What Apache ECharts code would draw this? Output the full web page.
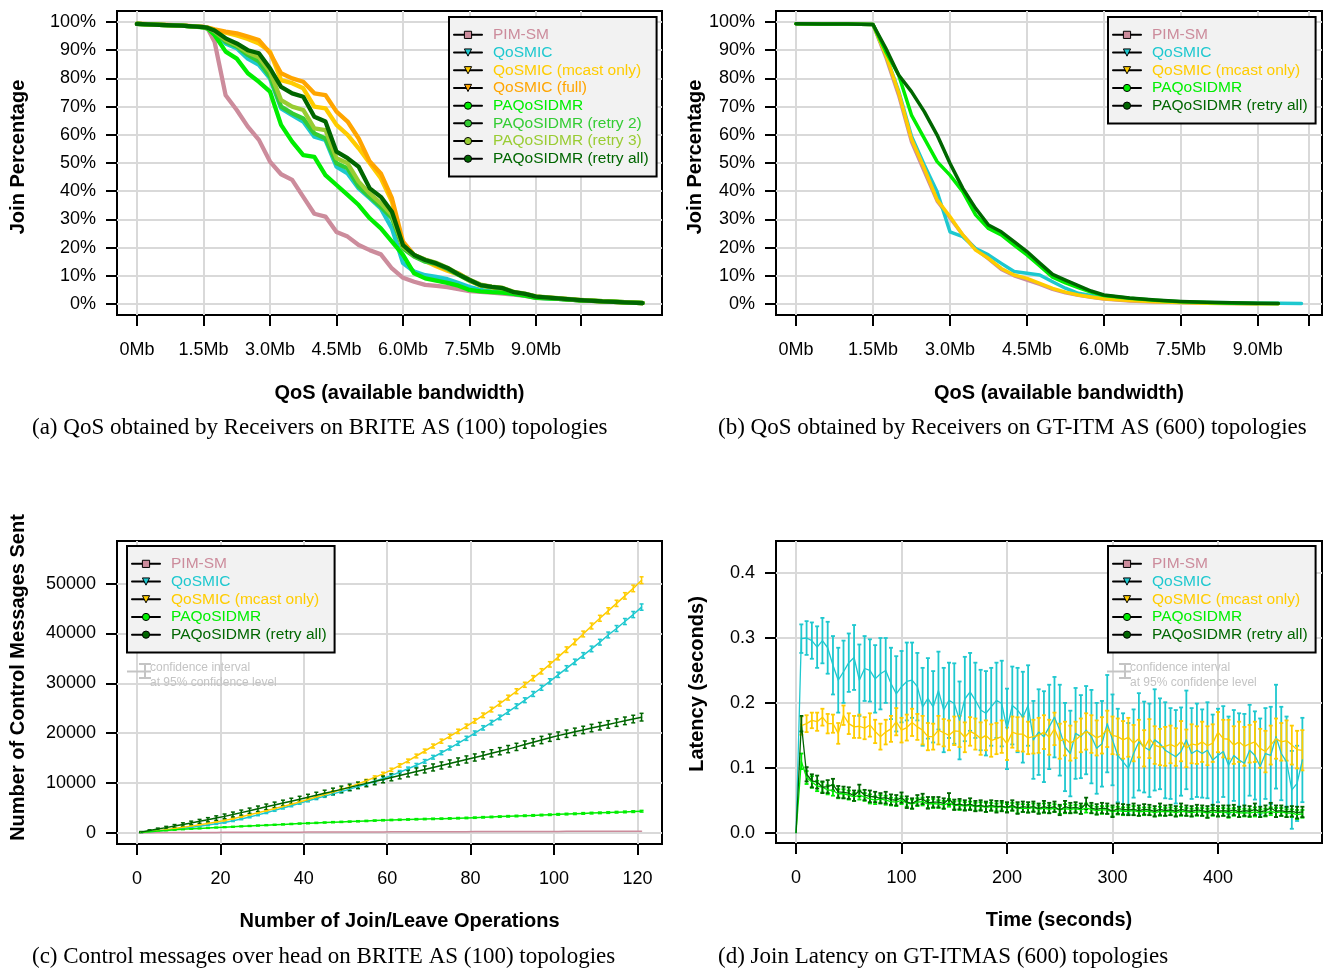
<!DOCTYPE html>
<html>
<head>
<meta charset="utf-8">
<title>QoS multicast routing results</title>
<script src="https://cdn.jsdelivr.net/npm/echarts@6/dist/echarts.min.js"></script>
<style>
  html, body { margin: 0; padding: 0; background: #ffffff; }
  #chart { width: 1325px; height: 969px; }
</style>
</head>
<body>
<div id="chart"></div>
<script>
// ---------------------------------------------------------------
// Protocols and their look
// ---------------------------------------------------------------
const protocolColors = {
  'PIM-SM': '#cc8c9c',
  'QoSMIC': '#1ec8cf',
  'QoSMIC (mcast only)': '#ffcc00',
  'QoSMIC (full)': '#ffa500',
  'PAQoSIDMR': '#00ee00',
  'PAQoSIDMR (retry 2)': '#33cc33',
  'PAQoSIDMR (retry 3)': '#99cc33',
  'PAQoSIDMR (retry all)': '#006600'
};
const protocolSymbols = {
  'PIM-SM': ['rect', 0],
  'QoSMIC': ['triangle', 180],
  'QoSMIC (mcast only)': ['triangle', 180],
  'QoSMIC (full)': ['triangle', 180],
  'PAQoSIDMR': ['circle', 0],
  'PAQoSIDMR (retry 2)': ['circle', 0],
  'PAQoSIDMR (retry 3)': ['circle', 0],
  'PAQoSIDMR (retry all)': ['circle', 0]
};

// ---------------------------------------------------------------
// (a) Join percentage vs available bandwidth, BRITE AS (100)
// ---------------------------------------------------------------
const briteProtocols = ['PIM-SM', 'QoSMIC', 'QoSMIC (mcast only)', 'QoSMIC (full)',
  'PAQoSIDMR', 'PAQoSIDMR (retry 2)', 'PAQoSIDMR (retry 3)', 'PAQoSIDMR (retry all)'];
const briteBandwidth = [0, 0.5, 1.0, 1.5, 1.6, 1.75, 2.0, 2.25, 2.5, 2.75, 3.0, 3.25, 3.5, 3.75,
  4.0, 4.25, 4.5, 4.75, 5.0, 5.25, 5.5, 5.75, 6.0, 6.25, 6.5, 6.75, 7.0, 7.25, 7.5, 7.75,
  8.0, 8.25, 8.5, 8.75, 9.0, 9.5, 10.0, 10.5, 11.0, 11.4];
const britePimSm = [99.3, 99.0, 98.7, 98.3, 97.5, 93, 74, 68.8, 62.9, 58.2, 50.5, 46, 44, 38,
  32, 31, 25.5, 23.9, 20.9, 19.1, 17.6, 12.6, 9.3, 7.9, 6.8, 6.4, 6.0, 5.3, 4.6, 4.3,
  4.0, 3.7, 3.3, 2.9, 2.2, 1.8, 1.3, 1.0, 0.7, 0.4];
const briteQosmic = [99.3, 99.0, 98.7, 98.2, 97.8, 96, 92.4, 90.7, 87, 84.8, 80, 69.4, 67, 64.7,
  59.3, 58.2, 48.7, 46.3, 41, 37.5, 33.9, 26.8, 14.5, 11.5, 10.2, 9.6, 8.8, 7.4, 6.0, 5.0,
  4.5, 4.1, 3.6, 3.1, 2.3, 1.8, 1.3, 0.9, 0.6, 0.3];
const briteQosmicMcast = [99.3, 99.0, 98.7, 98.2, 97.9, 97.2, 96.2, 95.2, 94, 92.4, 89.5, 79.4, 78.3, 76.5,
  70, 69.4, 63.5, 60, 55.2, 49.9, 44.6, 36.3, 20.9, 17, 15.2, 13.4, 11.8, 10.5, 8.2, 6.5,
  5.9, 5.4, 3.9, 3.4, 2.5, 1.9, 1.3, 0.9, 0.6, 0.3];
const briteQosmicFull = [99.4, 99.1, 98.8, 98.3, 98.0, 97.4, 96.6, 96, 94.8, 93.6, 89, 81.8, 80, 78.8,
  74.7, 74.1, 68.2, 64.7, 58.7, 50.5, 46.3, 37.5, 22.1, 17.4, 15.6, 13.8, 12.2, 10.9, 8.5, 6.7,
  6.1, 5.6, 4.0, 3.5, 2.6, 2.0, 1.4, 0.9, 0.6, 0.3];
const britePaqos = [99.3, 99.0, 98.7, 98.1, 97.6, 95.4, 89.5, 87, 81.8, 78.8, 75.3, 63.5, 57.6, 52.8,
  52.2, 45.7, 42.2, 38.7, 35.1, 30.4, 26.8, 22.1, 17.4, 10.9, 9.1, 8.3, 7.5, 6.5, 5.0, 4.5,
  4.2, 4.0, 3.6, 3.0, 2.2, 1.8, 1.3, 1.0, 0.7, 0.4];
const britePaqosRetry2 = [99.3, 99.0, 98.7, 98.2, 97.8, 96.5, 93, 91.3, 88.3, 86, 80.6, 70, 67.6, 65.8,
  60.5, 58.7, 49.9, 48.1, 41.6, 38, 34.5, 30.4, 19.7, 16.8, 15, 14.2, 12.5, 10.3, 8.3, 6.6,
  6.0, 5.5, 4.1, 3.5, 2.5, 1.9, 1.3, 0.9, 0.6, 0.3];
const britePaqosRetry3 = [99.3, 99.0, 98.7, 98.2, 97.9, 96.8, 93.6, 91.8, 89.2, 87.5, 82.4, 72.3, 70, 68.8,
  62.3, 61.7, 51.7, 49.9, 43.4, 39.2, 35.7, 31.6, 20.3, 17.4, 15.8, 14.6, 12.9, 10.7, 8.6, 6.9,
  6.2, 5.7, 4.3, 3.7, 2.7, 2.1, 1.5, 1.0, 0.7, 0.4];
const britePaqosRetryAll = [99.3, 99.0, 98.7, 98.2, 97.9, 97, 94.2, 92.4, 90, 88.9, 83.6, 77, 74.7, 73.5,
  66.4, 64.7, 54, 51.7, 48.7, 41, 38, 32.7, 20.9, 17.4, 15.6, 14.4, 12.8, 10.5, 8.5, 6.7,
  6.1, 5.6, 4.2, 3.6, 2.6, 2.0, 1.4, 0.9, 0.6, 0.3];

// ---------------------------------------------------------------
// (b) Join percentage vs available bandwidth, GT-ITM AS (600)
// ---------------------------------------------------------------
const gtitmProtocols = ['PIM-SM', 'QoSMIC', 'QoSMIC (mcast only)', 'PAQoSIDMR', 'PAQoSIDMR (retry all)'];
const gtitmBandwidth = [0, 0.5, 1.0, 1.5, 1.75, 2.0, 2.25, 2.5, 2.75, 3.0, 3.25, 3.5, 3.75, 4.0,
  4.25, 4.5, 4.75, 5.0, 5.25, 5.5, 5.75, 6.0, 6.5, 7.0, 7.5, 8.0, 8.5, 9.0, 9.4, 9.85];
const gtitmPimSm = [99.4, 99.3, 99.3, 99.1, 87.5, 74, 57.5, 47, 36.5, 30.5, 24.5, 19.5, 16, 12.3,
  10, 8.5, 7, 5.2, 4.0, 3.1, 2.4, 1.8, 1.1, 0.7, 0.5, 0.3, 0.2, 0.1, null, null];
const gtitmQosmic = [99.4, 99.3, 99.3, 99.1, 88.3, 75.5, 59.5, 49.3, 39.8, 25.6, 23.9, 19.7, 17.4, 14.4,
  11.5, 10.9, 10.3, 7.9, 5.6, 3.8, 3.0, 2.2, 1.5, 1.0, 0.7, 0.5, 0.4, 0.3, 0.25, 0.2];
const gtitmQosmicMcast = [99.4, 99.3, 99.3, 99.1, 88.3, 75, 58.5, 48.1, 36.9, 31, 24.5, 19.1, 16.2, 12.6,
  10.3, 9.1, 7.3, 5.5, 4.2, 3.2, 2.5, 1.9, 1.2, 0.8, 0.5, 0.3, 0.2, 0.1, 0.05, null];
const gtitmPaqos = [99.4, 99.3, 99.3, 99.1, 89.5, 81.2, 67, 58.7, 50.5, 45.7, 39.8, 31.6, 26.8, 24.5,
  20.9, 17.4, 13.5, 9.5, 7.5, 5.8, 4.2, 3.0, 2.0, 1.3, 0.8, 0.5, 0.3, 0.2, 0.15, null];
const gtitmPaqosRetryAll = [99.4, 99.3, 99.3, 99.1, 90.7, 81.2, 75.3, 68.2, 59.9, 49.9, 41, 33.9, 28, 25.6,
  22.1, 18.6, 14.5, 10.5, 8.5, 6.5, 4.6, 3.2, 2.1, 1.4, 0.9, 0.6, 0.4, 0.3, 0.2, null];

// ---------------------------------------------------------------
// (c) Control messages vs join/leave operations (mean and 95% CI half-width)
// ---------------------------------------------------------------
const operations = [1, 3, 5, 7, 9, 11, 13, 15, 17, 19, 21, 23, 25, 27, 29, 31, 33, 35, 37, 39,
  41, 43, 45, 47, 49, 51, 53, 55, 57, 59, 61, 63, 65, 67, 69, 71, 73, 75, 77, 79,
  81, 83, 85, 87, 89, 91, 93, 95, 97, 99, 101, 103, 105, 107, 109, 111, 113, 115, 117, 119, 121];
const msgPimSm = [5, 10, 20, 25, 30, 40, 45, 50, 55, 60, 65, 70, 75, 80, 85, 90, 95, 100, 105, 110,
  115, 120, 125, 130, 135, 140, 145, 150, 155, 160, 165, 170, 175, 180, 185, 190, 195, 200, 205, 210,
  215, 220, 225, 230, 235, 240, 245, 250, 255, 260, 265, 270, 275, 280, 285, 290, 295, 300, 305, 310, 315];
const msgQosmic = [50, 200, 350, 520, 700, 880, 1080, 1300, 1530, 1780, 2050, 2380, 2750, 3150, 3580, 4020, 4480, 4950, 5420, 5920,
  6420, 6880, 7340, 7800, 8270, 8750, 9250, 9780, 10330, 10900, 11500, 12150, 12830, 13550, 14320, 15150, 16050, 17000, 17950, 18950,
  20000, 21050, 22100, 23150, 24250, 25400, 26600, 27850, 29100, 30400, 31700, 33000, 34300, 35600, 36900, 38250, 39700, 41000, 42400, 43800, 45300];
const msgQosmicMcast = [70, 230, 410, 610, 830, 1070, 1320, 1580, 1860, 2150, 2470, 2820, 3200, 3600, 4000, 4420, 4850, 5270, 5720, 6170,
  6650, 7150, 7650, 8150, 8650, 9200, 9800, 10420, 11100, 11820, 12620, 13500, 14420, 15400, 16400, 17400, 18380, 19350, 20350, 21370,
  22450, 23570, 24720, 25900, 27120, 28400, 29700, 31020, 32400, 33800, 35250, 36750, 38300, 39900, 41500, 43050, 44550, 46050, 47550, 49050, 50700];
const msgPaqos = [70, 210, 340, 460, 570, 670, 770, 860, 950, 1030, 1110, 1190, 1270, 1350, 1430, 1510, 1590, 1670, 1750, 1830,
  1900, 1970, 2040, 2110, 2170, 2230, 2290, 2360, 2430, 2500, 2550, 2600, 2650, 2700, 2740, 2780, 2820, 2860, 2910, 2960,
  3020, 3090, 3160, 3230, 3290, 3350, 3410, 3470, 3540, 3610, 3680, 3740, 3800, 3870, 3930, 3990, 4050, 4110, 4170, 4240, 4310];
const msgPaqosRetryAll = [130, 420, 720, 1020, 1330, 1650, 1960, 2280, 2600, 2930, 3280, 3650, 4030, 4410, 4800, 5190, 5570, 5950, 6330, 6710,
  7100, 7500, 7900, 8300, 8700, 9100, 9500, 9900, 10300, 10700, 11100, 11500, 11900, 12300, 12700, 13100, 13500, 13900, 14300, 14700,
  15100, 15520, 15940, 16360, 16780, 17230, 17690, 18150, 18610, 19070, 19490, 19870, 20250, 20630, 21010, 21380, 21740, 22100, 22460, 22820, 23200];
const msgQosmicCi = [25, 35, 45, 55, 65, 75, 85, 95, 105, 115, 125, 135, 145, 155, 165, 175, 185, 195, 205, 215,
  225, 235, 245, 255, 265, 275, 285, 295, 305, 315, 325, 335, 345, 355, 365, 375, 385, 395, 405, 415,
  425, 435, 445, 455, 465, 475, 485, 495, 505, 515, 525, 535, 545, 555, 565, 575, 585, 595, 605, 615, 630];
const msgQosmicMcastCi = [30, 40, 50, 60, 70, 80, 90, 100, 110, 120, 130, 140, 150, 160, 170, 180, 190, 200, 210, 220,
  230, 240, 250, 260, 270, 280, 290, 300, 310, 320, 330, 345, 360, 375, 390, 400, 410, 420, 430, 440,
  450, 460, 470, 480, 490, 500, 510, 520, 530, 540, 550, 560, 570, 580, 590, 600, 615, 630, 645, 660, 680];
const msgPaqosCi = [20, 30, 40, 50, 55, 60, 65, 70, 75, 80, 80, 85, 85, 90, 90, 95, 95, 100, 100, 100,
  105, 105, 105, 110, 110, 110, 115, 115, 115, 120, 120, 120, 125, 125, 125, 130, 130, 130, 135, 135,
  135, 140, 140, 140, 145, 145, 145, 150, 150, 150, 155, 155, 155, 160, 160, 160, 165, 165, 165, 170, 170];
const msgPaqosRetryAllCi = [100, 150, 200, 250, 300, 330, 360, 390, 420, 450, 470, 490, 510, 530, 550, 560, 570, 580, 590, 600,
  610, 620, 630, 640, 650, 655, 660, 665, 670, 675, 680, 685, 690, 695, 700, 700, 705, 705, 710, 710,
  715, 715, 720, 720, 725, 725, 730, 730, 735, 735, 740, 740, 745, 745, 750, 750, 755, 755, 760, 760, 770];

// ---------------------------------------------------------------
// (d) Join latency over time, GT-ITM AS (600) (mean and 95% CI half-width)
// ---------------------------------------------------------------
const timeSeconds = [0, 5, 10, 15, 20, 25, 30, 35, 40, 45, 50, 55, 60, 65, 70, 75, 80, 85, 90, 95,
  100, 105, 110, 115, 120, 125, 130, 135, 140, 145, 150, 155, 160, 165, 170, 175, 180, 185, 190, 195,
  200, 205, 210, 215, 220, 225, 230, 235, 240, 245, 250, 255, 260, 265, 270, 275, 280, 285, 290, 295,
  300, 305, 310, 315, 320, 325, 330, 335, 340, 345, 350, 355, 360, 365, 370, 375, 380, 385, 390, 395,
  400, 405, 410, 415, 420, 425, 430, 435, 440, 445, 450, 455, 460, 465, 470, 475, 480];
const latQosmic = [0, .299, .30, .296, .286, .296, .285, .258, .235, .248,
  .262, .27, .235, .253, .25, .237, .245, .25, .23, .214,
  .225, .233, .235, .225, .194, .207, .194, .219, .189, .204,
  .199, .173, .206, .217, .204, .189, .184, .194, .204, .199,
  .16, .196, .189, .178, .196, .143, .155, .148, .163, .178,
  .158, .132, .122, .153, .148, .158, .148, .13, .137, .168,
  .143, .119, .109, .099, .122, .14, .132, .127, .143, .137,
  .127, .122, .117, .125, .143, .122, .127, .122, .127, .112,
  .119, .125, .104, .119, .112, .107, .127, .119, .102, .122,
  .119, .148, .122, .109, .066, .076, .112];
const latQosmicCi = [0, .022, .026, .028, .032, .035, .04, .045, .05, .048,
  .045, .05, .055, .05, .048, .052, .055, .05, .055, .058,
  .055, .06, .058, .052, .06, .062, .055, .06, .065, .058,
  .062, .06, .065, .06, .058, .062, .065, .06, .058, .066,
  .062, .06, .065, .07, .062, .06, .066, .07, .065, .062,
  .07, .068, .066, .07, .064, .068, .072, .07, .066, .075,
  .07, .072, .075, .07, .068, .075, .07, .072, .078, .07,
  .074, .07, .072, .068, .076, .07, .072, .068, .074, .07,
  .072, .07, .075, .07, .072, .076, .07, .068, .074, .07,
  .075, .08, .072, .07, .06, .058, .065];
const latQosmicMcast = [null, .165, .168, .173, .171, .178, .168, .168, .153, .181,
  .168, .163, .164, .161, .166, .156, .148, .155, .16, .171,
  .158, .162, .17, .163, .158, .148, .148, .158, .154, .15,
  .157, .156, .147, .156, .152, .145, .15, .142, .145, .148,
  .137, .155, .152, .152, .146, .148, .15, .155, .147, .16,
  .141, .145, .138, .143, .15, .156, .152, .146, .15, .16,
  .15, .148, .143, .147, .138, .145, .13, .145, .135, .132,
  .133, .136, .132, .141, .13, .137, .135, .14, .134, .138,
  .155, .145, .144, .135, .14, .133, .137, .14, .13, .125,
  .135, .145, .14, .142, .135, .128, .127];
const latQosmicMcastCi = [0, .014, .013, .012, .014, .013, .015, .014, .016, .015,
  .016, .017, .018, .017, .018, .018, .02, .019, .02, .021,
  .019, .02, .021, .02, .022, .021, .02, .022, .021, .023,
  .022, .024, .023, .022, .024, .025, .023, .025, .024, .025,
  .025, .024, .026, .027, .025, .026, .027, .026, .027, .025,
  .027, .026, .027, .028, .026, .028, .029, .027, .028, .028,
  .029, .028, .029, .03, .028, .029, .028, .03, .029, .028,
  .03, .029, .029, .031, .029, .03, .029, .031, .03, .029,
  .031, .029, .03, .029, .031, .03, .029, .031, .03, .032,
  .03, .031, .029, .031, .03, .029, .031];
const latPaqos = [0, .11, .085, .078, .072, .07, .066, .065, .06, .06,
  .058, .055, .058, .055, .052, .05, .052, .05, .048, .047,
  .05, .046, .044, .047, .048, .044, .045, .044, .043, .046,
  .042, .042, .041, .042, .04, .041, .039, .04, .039, .04,
  .038, .04, .037, .038, .037, .039, .036, .038, .036, .038,
  .035, .037, .036, .037, .035, .038, .036, .034, .035, .035,
  .032, .034, .033, .033, .034, .032, .033, .033, .031, .033,
  .032, .033, .031, .033, .032, .031, .032, .032, .03, .032,
  .031, .032, .03, .032, .03, .031, .03, .032, .03, .031,
  .033, .031, .032, .03, .03, .028, .029];
const latPaqosCi = [0, .012, .01, .009, .008, .008, .007, .008, .007, .007,
  .007, .006, .007, .006, .007, .006, .006, .007, .006, .006,
  .006, .006, .007, .006, .006, .006, .007, .006, .006, .006,
  .006, .007, .006, .006, .006, .006, .007, .006, .006, .006,
  .006, .006, .007, .006, .006, .006, .006, .007, .006, .006,
  .006, .007, .006, .006, .006, .007, .006, .006, .006, .006,
  .007, .006, .006, .006, .007, .006, .006, .006, .006, .007,
  .006, .006, .006, .007, .006, .006, .006, .006, .007, .006,
  .006, .006, .007, .006, .006, .006, .006, .007, .006, .006,
  .006, .007, .006, .006, .006, .007, .006];
const latPaqosRetryAll = [0, .168, .09, .08, .078, .07, .071, .074, .063, .062,
  .061, .057, .065, .058, .056, .055, .053, .054, .051, .05,
  .054, .047, .045, .05, .052, .046, .047, .047, .045, .052,
  .043, .044, .042, .044, .041, .042, .04, .042, .04, .041,
  .039, .042, .038, .04, .039, .04, .037, .04, .038, .04,
  .035, .04, .038, .039, .037, .045, .038, .036, .038, .037,
  .033, .037, .036, .035, .036, .034, .036, .035, .033, .036,
  .034, .035, .033, .036, .034, .033, .035, .034, .032, .035,
  .033, .034, .033, .035, .032, .034, .033, .036, .032, .034,
  .038, .033, .034, .032, .033, .031, .032];
const latPaqosRetryAllCi = [0, .012, .011, .01, .01, .009, .01, .009, .009, .009,
  .009, .008, .009, .008, .009, .008, .008, .009, .008, .008,
  .008, .009, .008, .008, .008, .009, .008, .008, .008, .009,
  .008, .008, .008, .009, .008, .008, .008, .008, .009, .008,
  .008, .008, .009, .008, .008, .008, .008, .009, .008, .008,
  .008, .009, .008, .008, .008, .009, .008, .008, .008, .008,
  .009, .008, .008, .008, .009, .008, .008, .008, .008, .009,
  .008, .008, .008, .009, .008, .008, .008, .008, .009, .008,
  .008, .008, .009, .008, .008, .008, .008, .009, .008, .008,
  .008, .009, .008, .008, .008, .009, .008];

// Axis tick positions and labels
const bandwidthTicks = [0, 1.5, 3.0, 4.5, 6.0, 7.5, 9.0, 10.0];
const bandwidthLabels = [0, 1.5, 3.0, 4.5, 6.0, 7.5, 9.0];
const percentTicks = [0, 10, 20, 30, 40, 50, 60, 70, 80, 90, 100];
const operationTicks = [0, 20, 40, 60, 80, 100, 120];
const messageTicks = [0, 10000, 20000, 30000, 40000, 50000];
const timeTicks = [0, 100, 200, 300, 400];
const latencyTicks = [0, 0.1, 0.2, 0.3, 0.4];

// ---------------------------------------------------------------
// Chart construction
// ---------------------------------------------------------------
const SANS = '"Liberation Sans", Arial, Helvetica, sans-serif';
const SERIF = '"Liberation Serif", "Times New Roman", Times, serif';
const GRID_LINE = '#d9d9d9';

const grids = [
  { left: 117, top: 11, width: 545, height: 304 },
  { left: 776, top: 11, width: 546, height: 304 },
  { left: 117, top: 541, width: 545, height: 303 },
  { left: 776, top: 541, width: 546, height: 302 }
].map(g => Object.assign({ show: true, borderColor: '#000', borderWidth: 2, backgroundColor: 'transparent' }, g));

function makeAxis(gi, min, max, ticks, labels, fmt, name, nameGap, margin, namePadding) {
  return {
    type: 'value', gridIndex: gi, min: min, max: max,
    axisLine: { show: false, onZero: false },
    axisTick: { show: true, inside: false, length: 11, customValues: ticks,
      lineStyle: { color: '#000', width: 2 } },
    axisLabel: { customValues: labels, formatter: fmt, margin: margin,
      color: '#000', fontFamily: SANS, fontSize: 18 },
    splitLine: { show: true, lineStyle: { color: GRID_LINE, width: 2 } },
    name: name, nameLocation: 'middle', nameGap: nameGap,
    nameTextStyle: { color: '#000', fontFamily: SANS, fontSize: 20, fontWeight: 'bold', padding: namePadding }
  };
}
const mbFmt = v => (v === 0 ? '0Mb' : v.toFixed(1) + 'Mb');
const pctFmt = v => v + '%';

const xAxes = [
  makeAxis(0, -0.45, 11.84, bandwidthTicks, bandwidthLabels, mbFmt, 'QoS (available bandwidth)', 68, 26, [0, 0, 0, 20]),
  makeAxis(1, -0.39, 10.25, bandwidthTicks, bandwidthLabels, mbFmt, 'QoS (available bandwidth)', 68, 26, [0, 0, 0, 20]),
  makeAxis(2, -4.8, 125.9, operationTicks, operationTicks, v => String(v), 'Number of Join/Leave Operations', 67, 26, [0, 0, 0, 20]),
  makeAxis(3, -19, 498.6, timeTicks, timeTicks, v => String(v), 'Time (seconds)', 67, 26, [0, 0, 0, 20])
];
const yAxes = [
  makeAxis(0, -3.9, 103.9, percentTicks, percentTicks, pctFmt, 'Join Percentage', 89, 21, [0, 0, 0, 12]),
  makeAxis(1, -3.9, 103.9, percentTicks, percentTicks, pctFmt, 'Join Percentage', 69, 21, [0, 0, 0, 12]),
  makeAxis(2, -2270, 58570, messageTicks, messageTicks, v => String(v), 'Number of Control Messages Sent', 89, 21, [0, 0, 0, 30]),
  makeAxis(3, -0.0159, 0.4495, latencyTicks, latencyTicks, v => v.toFixed(1), 'Latency (seconds)', 69, 21, [0, 0, 0, 16])
];

function lineSeries(name, gi, xs, ys, width) {
  const sym = protocolSymbols[name];
  const data = [];
  xs.forEach((x, i) => { if (ys[i] != null) data.push([x, ys[i]]); });
  return {
    type: 'line', name: name, xAxisIndex: gi, yAxisIndex: gi, data: data,
    symbol: sym[0], symbolRotate: sym[1], symbolSize: 7, showSymbol: false,
    color: protocolColors[name],
    itemStyle: { color: protocolColors[name] },
    lineStyle: { color: protocolColors[name], width: width, cap: 'round', join: 'round' },
    emphasis: { disabled: true }, silent: true, animation: false
  };
}

function errorBar(cap, width) {
  return function (params, api) {
    const x = api.value(0);
    const lo = api.coord([x, api.value(1)]);
    const hi = api.coord([x, api.value(2)]);
    const style = { stroke: api.visual('color'), lineWidth: width, fill: null };
    return { type: 'group', children: [
      { type: 'line', shape: { x1: lo[0], y1: lo[1], x2: hi[0], y2: hi[1] }, style: style },
      { type: 'line', shape: { x1: lo[0] - cap, y1: lo[1], x2: lo[0] + cap, y2: lo[1] }, style: style },
      { type: 'line', shape: { x1: hi[0] - cap, y1: hi[1], x2: hi[0] + cap, y2: hi[1] }, style: style }
    ] };
  };
}

function ciSeries(name, gi, xs, ys, ci, cap, width) {
  const data = [];
  xs.forEach((x, i) => { if (ys[i] != null && ci[i] > 0) data.push([x, ys[i] - ci[i], ys[i] + ci[i]]); });
  return {
    type: 'custom', name: name + ' CI', xAxisIndex: gi, yAxisIndex: gi, data: data,
    renderItem: errorBar(cap, width), encode: { x: 0, y: [1, 2] },
    itemStyle: { color: protocolColors[name] },
    silent: true, animation: false
  };
}

const series = [];
// (a)
[britePimSm, briteQosmic, briteQosmicMcast, briteQosmicFull, britePaqos,
 britePaqosRetry2, britePaqosRetry3, britePaqosRetryAll].forEach((d, i) => {
  series.push(lineSeries(briteProtocols[i], 0, briteBandwidth, d, 4.3));
});
// (b)
[gtitmPimSm, gtitmQosmic, gtitmQosmicMcast, gtitmPaqos, gtitmPaqosRetryAll].forEach((d, i) => {
  series.push(lineSeries(gtitmProtocols[i], 1, gtitmBandwidth, d, 3.5));
});
// (c)
series.push(lineSeries('PIM-SM', 2, operations, msgPimSm, 1.5));
series.push(lineSeries('QoSMIC', 2, operations, msgQosmic, 1.5));
series.push(ciSeries('QoSMIC', 2, operations, msgQosmic, msgQosmicCi, 2, 1.5));
series.push(lineSeries('QoSMIC (mcast only)', 2, operations, msgQosmicMcast, 1.5));
series.push(ciSeries('QoSMIC (mcast only)', 2, operations, msgQosmicMcast, msgQosmicMcastCi, 2, 1.5));
series.push(lineSeries('PAQoSIDMR', 2, operations, msgPaqos, 1.5));
series.push(ciSeries('PAQoSIDMR', 2, operations, msgPaqos, msgPaqosCi, 2, 1.5));
series.push(lineSeries('PAQoSIDMR (retry all)', 2, operations, msgPaqosRetryAll, 1.5));
series.push(ciSeries('PAQoSIDMR (retry all)', 2, operations, msgPaqosRetryAll, msgPaqosRetryAllCi, 2, 1.5));
// (d)
series.push(lineSeries('PIM-SM', 3, timeSeconds, [], 1.3));
series.push(lineSeries('QoSMIC', 3, timeSeconds, latQosmic, 1.3));
series.push(ciSeries('QoSMIC', 3, timeSeconds, latQosmic, latQosmicCi, 2, 1.8));
series.push(lineSeries('QoSMIC (mcast only)', 3, timeSeconds, latQosmicMcast, 1.3));
series.push(ciSeries('QoSMIC (mcast only)', 3, timeSeconds, latQosmicMcast, latQosmicMcastCi, 2, 1.8));
series.push(lineSeries('PAQoSIDMR', 3, timeSeconds, latPaqos, 1.3));
series.push(ciSeries('PAQoSIDMR', 3, timeSeconds, latPaqos, latPaqosCi, 2, 1.8));
series.push(lineSeries('PAQoSIDMR (retry all)', 3, timeSeconds, latPaqosRetryAll, 1.3));
series.push(ciSeries('PAQoSIDMR (retry all)', 3, timeSeconds, latPaqosRetryAll, latPaqosRetryAllCi, 2, 1.8));

function makeLegend(names, left, top) {
  return {
    orient: 'vertical', left: left, top: top,
    backgroundColor: '#f2f2f2', borderColor: '#000', borderWidth: 2, borderRadius: 0,
    padding: [9, 8, 9, 4], itemGap: 0, itemWidth: 28, itemHeight: 9,
    selectedMode: false,
    lineStyle: { color: '#000', width: 2 },
    itemStyle: { borderColor: '#000', borderWidth: 1 },
    textStyle: { fontFamily: SANS, fontSize: 15.5, lineHeight: 17.7, padding: [0, 0, 0, 6] },
    data: names.map(n => ({ name: n, textStyle: { color: protocolColors[n] } }))
  };
}

const captionStyle = { fontFamily: SERIF, fontSize: 23, fontWeight: 'normal', color: '#000' };
const titles = [
  { text: '(a) QoS obtained by Receivers on BRITE AS (100) topologies', left: 32, top: 416 },
  { text: '(b) QoS obtained by Receivers on GT-ITM AS (600) topologies', left: 718, top: 416 },
  { text: '(c) Control messages over head on BRITE AS (100) topologies', left: 32, top: 945 },
  { text: '(d) Join Latency on GT-ITMAS (600) topologies', left: 718, top: 945 }
].map(t => Object.assign({ padding: 0, textStyle: captionStyle }, t));

function ciNote(x, y) {
  const grey = '#c4c4c4';
  const ls = { stroke: grey, lineWidth: 2 };
  const ts = { fill: grey, font: '12px ' + SANS, textVerticalAlign: 'middle' };
  return [
    { type: 'line', shape: { x1: x, y1: y + 3.5, x2: x + 24, y2: y + 3.5 }, style: ls, z: 5 },
    { type: 'line', shape: { x1: x + 18, y1: y - 4, x2: x + 18, y2: y + 10 }, style: ls, z: 5 },
    { type: 'line', shape: { x1: x + 12, y1: y - 4, x2: x + 24, y2: y - 4 }, style: ls, z: 5 },
    { type: 'line', shape: { x1: x + 12, y1: y + 10, x2: x + 24, y2: y + 10 }, style: ls, z: 5 },
    { type: 'text', x: x + 23, y: y, style: Object.assign({ text: 'confidence interval' }, ts), z: 5 },
    { type: 'text', x: x + 23, y: y + 15, style: Object.assign({ text: 'at 95% confidence level' }, ts), z: 5 }
  ];
}

const option = {
  backgroundColor: '#ffffff',
  animation: false,
  title: titles,
  grid: grids,
  xAxis: xAxes,
  yAxis: yAxes,
  legend: [
    makeLegend(briteProtocols, 449, 17),
    makeLegend(gtitmProtocols, 1108, 17),
    makeLegend(gtitmProtocols, 127, 546),
    makeLegend(gtitmProtocols, 1108, 546)
  ],
  graphic: ciNote(127, 668).concat(ciNote(1107, 668)),
  series: series
};

const chart = echarts.init(document.getElementById('chart'), null, { renderer: 'canvas' });
chart.setOption(option);
</script>
</body>
</html>
